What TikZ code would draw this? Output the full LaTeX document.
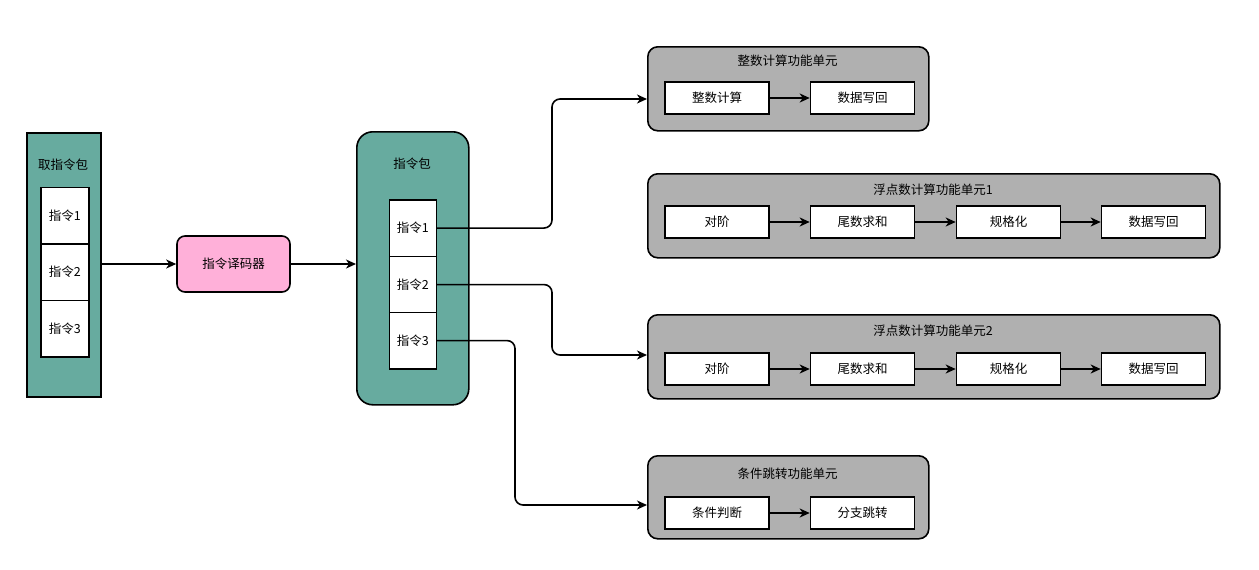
\documentclass[tikz,border=0pt]{standalone}
\usepackage{fontspec}
\setmainfont{Noto Sans CJK SC}
\usetikzlibrary{arrows.meta}
\definecolor{teal1}{HTML}{67AB9F}
\definecolor{pink1}{HTML}{FFB0D9}
\definecolor{gray1}{HTML}{B0B0B0}
\tikzset{
  x=1pt,y=-1pt,
  every node/.style={font=\fontsize{12.5}{14}\selectfont, inner sep=0pt},
  box/.style={draw=black, line width=1.6pt, fill=white, minimum width=#1, minimum height=32pt},
  box/.default=104pt,
  cell/.style={draw=black, line width=1.6pt, fill=white, minimum width=48pt, minimum height=56.5pt},
  unit/.style={draw=black, line width=1.6pt, fill=gray1, rounded corners=10pt},
  conn/.style={line width=1.6pt, -{Stealth[length=10pt,width=9pt,inset=3pt]}},
  wire/.style={line width=1.6pt, rounded corners=8pt, -{Stealth[length=10pt,width=9pt,inset=3pt]}},
}
\begin{document}
\begin{tikzpicture}
\useasboundingbox (0,0) rectangle (1259,570);
% fetch package
\node[draw=black, line width=1.6pt, fill=teal1, minimum width=74pt, minimum height=264pt, anchor=north west] (fetch) at (26,132) {};
\node (fetcht) at (63,165) {取指令包};
\node[cell, anchor=north west] (f1) at (40,186.5) {指令1};
\node[cell, anchor=north west] (f2) at (40,243) {指令2};
\node[cell, anchor=north west] (f3) at (40,299.5) {指令3};
% decoder
\node[draw=black, line width=1.6pt, fill=pink1, rounded corners=8pt, minimum width=113pt, minimum height=56pt] (dec) at (233.5,264) {指令译码器};
% instruction package
\node[draw=black, line width=1.6pt, fill=teal1, rounded corners=16pt, minimum width=112pt, minimum height=273pt, anchor=north west] (pkg) at (356,131) {};
\node (pkgt) at (412,164) {指令包};
\node[cell, minimum width=47pt, anchor=north west] (p1) at (388.5,199) {指令1};
\node[cell, minimum width=47pt, anchor=north west] (p2) at (388.5,255.5) {指令2};
\node[cell, minimum width=47pt, anchor=north west] (p3) at (388.5,311.5) {指令3};
% unit 1
\node[unit, minimum width=281pt, minimum height=84pt, anchor=north west] (u1) at (647,46) {};
\node (u1t) at (787.5,61) {整数计算功能单元};
\node[box] (a1) at (717,98) {整数计算};
\node[box] (a2) at (862.5,98) {数据写回};
% unit 2
\node[unit, minimum width=572pt, minimum height=84pt, anchor=north west] (u2) at (647,173) {};
\node (u2t) at (933,190) {浮点数计算功能单元1};
\node[box] (b1) at (717,222) {对阶};
\node[box] (b2) at (862.5,222) {尾数求和};
\node[box] (b3) at (1008.5,222) {规格化};
\node[box] (b4) at (1153.5,222) {数据写回};
% unit 3
\node[unit, minimum width=572pt, minimum height=84pt, anchor=north west] (u3) at (647,314) {};
\node (u3t) at (933,331) {浮点数计算功能单元2};
\node[box] (c1) at (717,369) {对阶};
\node[box] (c2) at (862.5,369) {尾数求和};
\node[box] (c3) at (1008.5,369) {规格化};
\node[box] (c4) at (1153.5,369) {数据写回};
% unit 4
\node[unit, minimum width=281pt, minimum height=83pt, anchor=north west] (u4) at (647,455) {};
\node (u4t) at (787.5,474) {条件跳转功能单元};
\node[box] (d1) at (717,513) {条件判断};
\node[box] (d2) at (862.5,513) {分支跳转};
% connectors
\draw[conn] (fetch.east |- dec.west) -- (dec.west);
\draw[conn] (dec.east) -- (pkg.west |- dec.east);
\draw[wire] (p1.east) -| (552,99) -- (u1.west |- 0,99);
\draw[wire] (p2.east) -| (552,355) -- (u3.west |- 0,355);
\draw[wire] (p3.east) -| (515,505) -- (u4.west |- 0,505);
\draw[conn] (a1) -- (a2);
\draw[conn] (b1) -- (b2);
\draw[conn] (b2) -- (b3);
\draw[conn] (b3) -- (b4);
\draw[conn] (c1) -- (c2);
\draw[conn] (c2) -- (c3);
\draw[conn] (c3) -- (c4);
\draw[conn] (d1) -- (d2);
\end{tikzpicture}
\end{document}
